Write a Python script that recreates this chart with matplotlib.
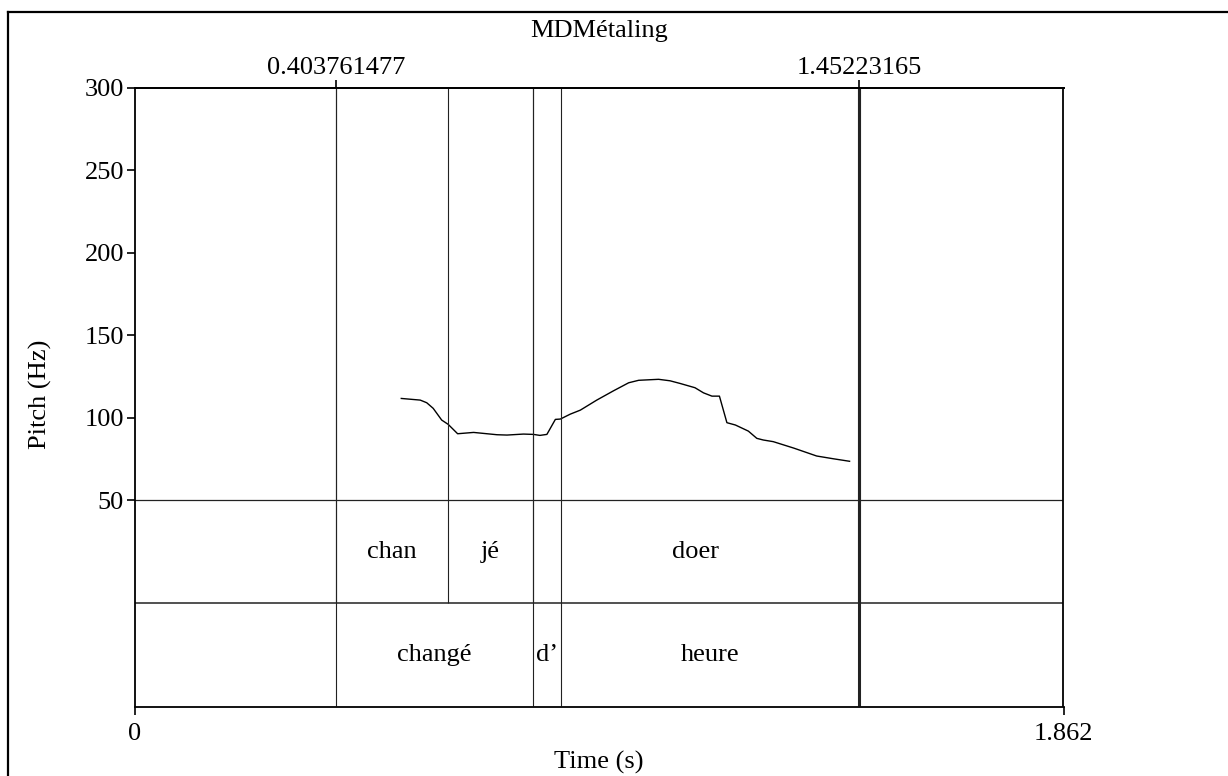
import matplotlib.pyplot as plt
from matplotlib.lines import Line2D

plt.rcParams["font.family"] = ["Liberation Serif", "DejaVu Serif"]

# pitch contour (s, Hz)
pitch_t = [0.534, 0.572, 0.585, 0.598, 0.615, 0.628, 0.647, 0.679, 0.726,
           0.746, 0.779, 0.799, 0.812, 0.826, 0.843, 0.853, 0.873, 0.893,
           0.926, 0.960, 0.990, 1.010, 1.050, 1.073, 1.093, 1.123, 1.140,
           1.157, 1.172, 1.187, 1.204, 1.230, 1.247, 1.260, 1.280, 1.321,
           1.367, 1.401, 1.433]
pitch_hz = [111.6, 110.6, 109.0, 105.6, 98.5, 95.9, 90.2, 91.0, 89.6,
            89.4, 90.0, 89.8, 89.2, 89.8, 98.9, 99.1, 102.1, 104.5,
            110.6, 116.3, 121.1, 122.6, 123.2, 122.3, 120.7, 118.1, 115.0,
            113.0, 113.0, 96.9, 95.5, 91.8, 87.4, 86.4, 85.4, 81.5,
            76.7, 75.0, 73.5]

# text grid tiers
tier1_bounds = [0.0, 0.403761477, 0.6273, 0.7978, 1.45223165, 1.862]
tier1_labels = ["", "chan", "jé", "doer", ""]
tier2_bounds = [0.0, 0.403761477, 0.7978, 0.854, 1.45223165, 1.862]
tier2_labels = ["", "changé", "d’", "heure", ""]

sel_times = [0.403761477, 1.45223165]
sel_labels = ["0.403761477", "1.45223165"]

title = "MDMétaling"
t_max = 1.862
f_min, f_max = 50, 300

# each tier gets this much room below the pitch area (in Hz units)
tier_h = (f_max - f_min) * 0.1668 / 0.6663
tier1_lo = f_min - tier_h
tier2_lo = f_min - 2 * tier_h

W, H = 1228, 776
fig = plt.figure(figsize=(W / 100, H / 100), dpi=100)
ax = fig.add_axes([135 / W, 1 - 706.5 / H, 928.5 / W, 618.8 / H])
ax.set_xlim(0, t_max)
ax.set_ylim(tier2_lo, f_max)

fs = 19
lc = "#222222"

# pitch
ax.plot(pitch_t, pitch_hz, color="black", lw=1.0)

# tier separators
ax.axhline(f_min, color=lc, lw=0.9)
ax.axhline(tier1_lo, color=lc, lw=1.1)

# boundaries: through the pitch area and the own tier
for bounds, lo, hi in [(tier1_bounds, tier1_lo, f_max),
                       (tier2_bounds, tier2_lo, f_min)]:
    inner = bounds[1:-1]
    lws = [2.2 if b == sel_times[-1] else 0.8 for b in inner]
    ax.vlines(inner, lo, hi, color=lc, lw=lws)
    if lo == tier2_lo:
        ax.vlines(inner, f_min, f_max, color=lc, lw=lws)

for lo, bounds, labels in [(tier1_lo, tier1_bounds, tier1_labels),
                           (tier2_lo, tier2_bounds, tier2_labels)]:
    for a, b, lab in zip(bounds[:-1], bounds[1:], labels):
        if lab:
            ax.text((a + b) / 2, lo + tier_h / 2, lab, ha="center",
                    va="center", fontsize=fs)

for s in ax.spines.values():
    s.set_linewidth(1.3)

ax.set_yticks([50, 100, 150, 200, 250, 300])
ax.set_xticks([0, t_max], labels=["0", "1.862"])
ax.tick_params(direction="out", length=6, width=1.2, labelsize=fs, pad=2)
ax.tick_params(axis="x", pad=6)

top = ax.secondary_xaxis("top")
top.set_xticks(sel_times, labels=sel_labels)
top.tick_params(direction="out", length=6, width=1.2, labelsize=fs, pad=0)
top.spines["top"].set_linewidth(1.3)

ax.set_ylabel("Pitch (Hz)", fontsize=fs)
ax.yaxis.set_label_coords(-0.089, 0.505)
ax.set_xlabel("Time (s)", fontsize=fs)
ax.xaxis.set_label_coords(0.5, -0.072)

fig.text(599 / W, 1 - 31 / H, title, ha="center", va="center", fontsize=fs)

# outer frame (only top and left edges are inside the picture)
fig.add_artist(Line2D([8 / W, 1.0], [1 - 12 / H] * 2, color="black", lw=1.6,
                      transform=fig.transFigure))
fig.add_artist(Line2D([8 / W] * 2, [0, 1 - 12 / H], color="black", lw=1.6,
                      transform=fig.transFigure))

fig.savefig("out.png", dpi=100)
